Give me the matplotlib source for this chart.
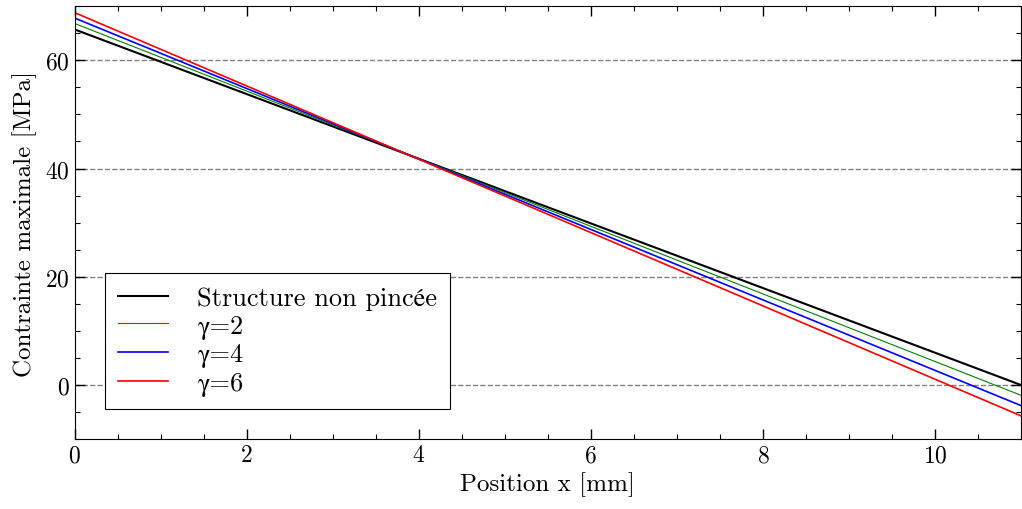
import numpy as np
import matplotlib
matplotlib.use('Agg')
import matplotlib.pyplot as plt
from matplotlib.ticker import MultipleLocator

# positions le long de la structure [mm]
x_pos = [0.0, 11.0]

# contrainte maximale [MPa] aux extremites
sigma_ref = [65.7, 0.0]
sigma_g2 = [66.8, -1.9]
sigma_g4 = [67.8, -3.8]
sigma_g6 = [68.8, -5.7]

labels = ['Structure non pincée', 'γ=2', 'γ=4', 'γ=6']

plt.rcParams['font.family'] = ['cmr10', 'STIXGeneral', 'DejaVu Serif']
plt.rcParams['axes.formatter.use_mathtext'] = True
plt.rcParams['font.size'] = 18

fig = plt.figure(figsize=(10.22, 5.10), dpi=100)
ax = fig.add_axes([0.073, 0.137, 0.926, 0.849])

ax.plot(x_pos, sigma_ref, color='black', linewidth=1.5, label=labels[0])
ax.plot(x_pos, sigma_g2, color='green', linewidth=0.8, label=labels[1])
ax.plot(x_pos, sigma_g4, color='blue', linewidth=1.2, label=labels[2])
ax.plot(x_pos, sigma_g6, color='red', linewidth=1.2, label=labels[3])

ax.set_xlim(0, 11)
ax.set_ylim(-10, 70)
ax.xaxis.set_major_locator(MultipleLocator(2))
ax.xaxis.set_minor_locator(MultipleLocator(0.5))
ax.yaxis.set_major_locator(MultipleLocator(20))
ax.yaxis.set_minor_locator(MultipleLocator(5))
ax.tick_params(which='both', direction='in', top=True, right=True, labelsize=17)
ax.tick_params(which='major', length=7, width=1)
ax.tick_params(which='minor', length=3.5, width=0.8)
ax.yaxis.grid(True, which='major', linestyle='--', color='gray', linewidth=1)

ax.set_xlabel('Position x [mm]', labelpad=4)
ax.set_ylabel('Contrainte maximale [MPa]', labelpad=6)

leg = ax.legend(loc='lower left', bbox_to_anchor=(0.032, 0.069), fancybox=False,
                edgecolor='black', framealpha=1, handlelength=1.9, handletextpad=1.1,
                borderpad=0.5, labelspacing=0.15, fontsize=19, borderaxespad=0)
leg.get_frame().set_linewidth(0.8)

fig.savefig('out.png', dpi=100)
